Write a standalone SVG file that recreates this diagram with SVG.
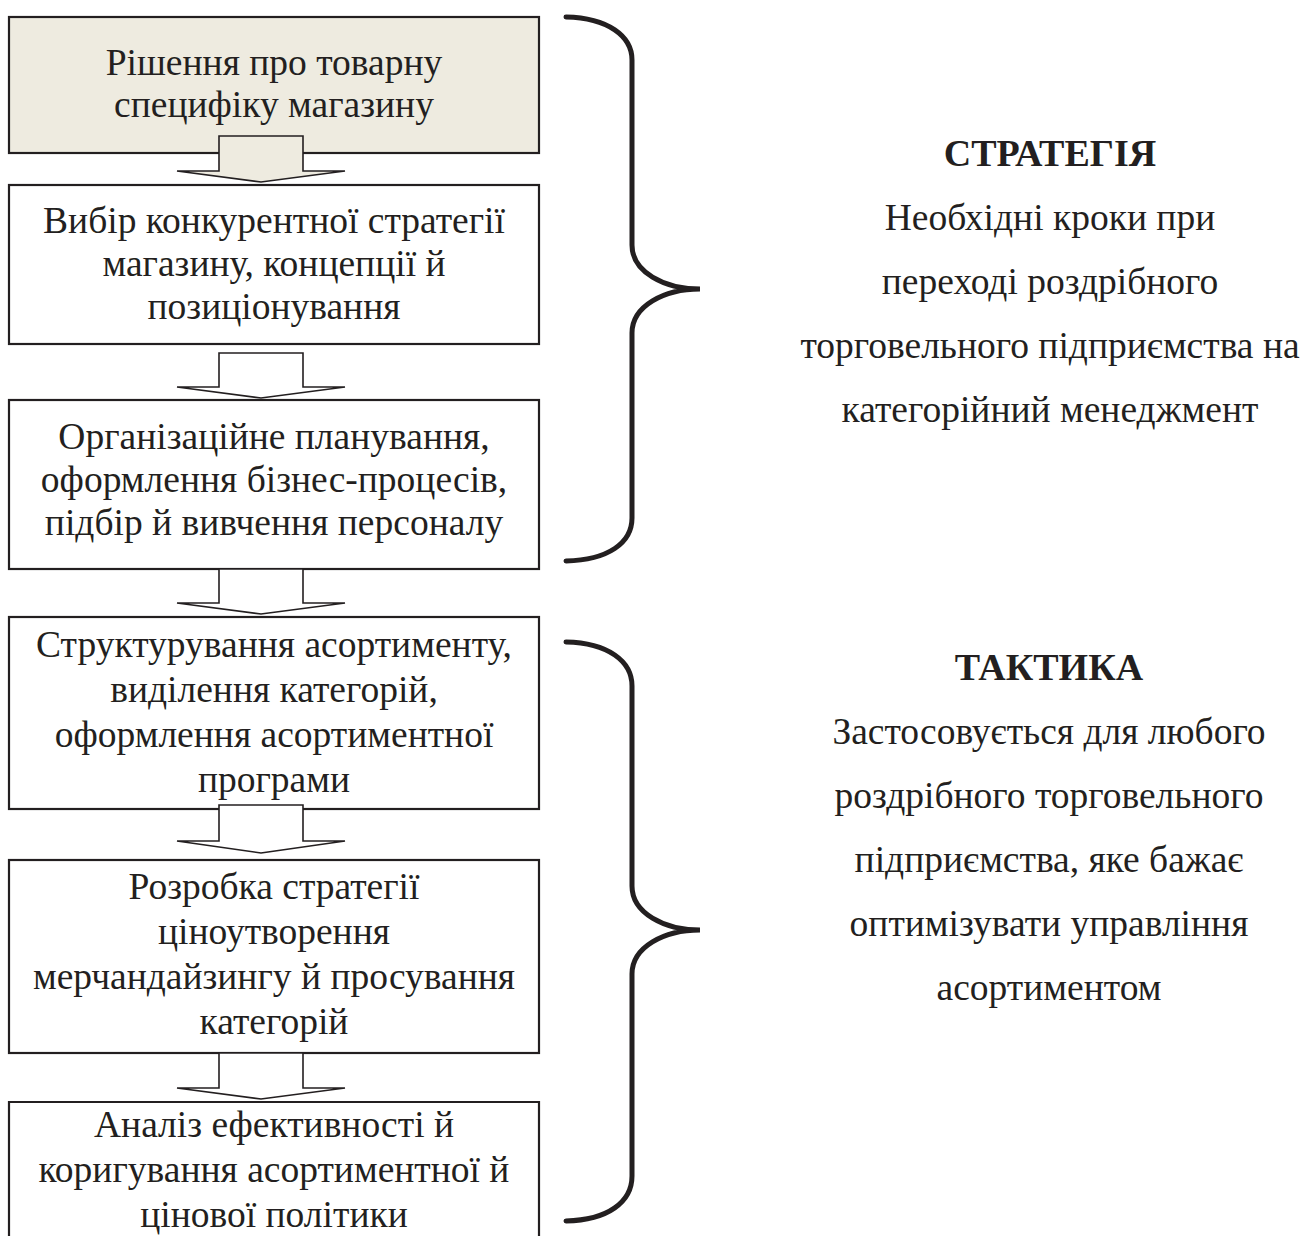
<svg xmlns="http://www.w3.org/2000/svg" width="1303" height="1236" viewBox="0 0 1303 1236">
<style>
.box{fill:#fff;stroke:#231f20;stroke-width:2.2}
.box1{fill:#eeebe0;stroke:#231f20;stroke-width:2.2}
.arr{fill:#fff;stroke:#231f20;stroke-width:1.6;stroke-linejoin:miter}
.arr1{fill:#eeebe0;stroke:#231f20;stroke-width:1.6}
.br{fill:none;stroke:#231f20;stroke-width:5;stroke-linecap:round}
.t{font-family:"Liberation Serif","Times New Roman",serif;font-size:37.5px;fill:#231f20;text-anchor:middle}
.h{font-weight:bold;font-size:38px}
</style>
<rect width="1303" height="1236" fill="#fff"/>
<g id="node1"><rect class="box1" x="9" y="17" width="530" height="136"/>
<text class="t" x="274" y="75">Рішення про товарну</text>
<text class="t" x="274" y="117">специфіку магазину</text></g>
<g id="node2"><rect class="box" x="9" y="185" width="530" height="159"/>
<text class="t" x="274" y="233">Вибір конкурентної стратегії</text>
<text class="t" x="274" y="276">магазину, концепції й</text>
<text class="t" x="274" y="319">позиціонування</text></g>
<g id="node3"><rect class="box" x="9" y="400" width="530" height="169"/>
<text class="t" x="274" y="449">Організаційне планування,</text>
<text class="t" x="274" y="492">оформлення бізнес-процесів,</text>
<text class="t" x="274" y="535">підбір й вивчення персоналу</text></g>
<g id="node4"><rect class="box" x="9" y="617" width="530" height="192"/>
<text class="t" x="274" y="657">Структурування асортименту,</text>
<text class="t" x="274" y="702">виділення категорій,</text>
<text class="t" x="274" y="747">оформлення асортиментної</text>
<text class="t" x="274" y="792">програми</text></g>
<g id="node5"><rect class="box" x="9" y="860" width="530" height="193"/>
<text class="t" x="274" y="899">Розробка стратегії</text>
<text class="t" x="274" y="944">ціноутворення</text>
<text class="t" x="274" y="989">мерчандайзингу й просування</text>
<text class="t" x="274" y="1034">категорій</text></g>
<g id="node6"><path class="box" d="M9,1240 V1102 H539 V1240"/>
<text class="t" x="274" y="1137">Аналіз ефективності й</text>
<text class="t" x="274" y="1182">коригування асортиментної й</text>
<text class="t" x="274" y="1227">цінової політики</text></g>
<g id="connectors">
<path class="arr1" d="M219,136 H303 V171 H345 L261,182 L177,171 H219 Z"/>
<path class="arr" d="M219,353 H303 V387 H345 L261,398 L177,387 H219 Z"/>
<path class="arr" d="M219,569 H303 V603 H345 L261,614 L177,603 H219 Z"/>
<path class="arr" d="M219,805 H303 V841 H345 L261,853 L177,841 H219 Z"/>
<path class="arr" d="M219,1053 H303 V1088 H345 L261,1099 L177,1088 H219 Z"/>
</g>
<g id="bracket-strategy"><path class="br" d="M566,17 C608,18 632,36 632,60 V245 C632,272 664,289 700,289 C664,289 632,306 632,333 V518 C632,543 608,560 566,561"/></g>
<g id="bracket-tactics"><path class="br" d="M566,642 C608,643 632,661 632,686 V886 C632,913 664,930 700,930 C664,930 632,947 632,974 V1176 C632,1202 608,1220 566,1221"/></g>
<g id="label-strategy">
<text class="t h" x="1050" y="166">СТРАТЕГІЯ</text>
<text class="t" x="1050" y="230">Необхідні кроки при</text>
<text class="t" x="1050" y="294">переході роздрібного</text>
<text class="t" x="1050" y="358">торговельного підприємства на</text>
<text class="t" x="1050" y="422">категорійний менеджмент</text>
</g>
<g id="label-tactics">
<text class="t h" x="1049" y="680">ТАКТИКА</text>
<text class="t" x="1049" y="744">Застосовується для любого</text>
<text class="t" x="1049" y="808">роздрібного торговельного</text>
<text class="t" x="1049" y="872">підприємства, яке бажає</text>
<text class="t" x="1049" y="936">оптимізувати управління</text>
<text class="t" x="1049" y="1000">асортиментом</text>
</g>
</svg>
